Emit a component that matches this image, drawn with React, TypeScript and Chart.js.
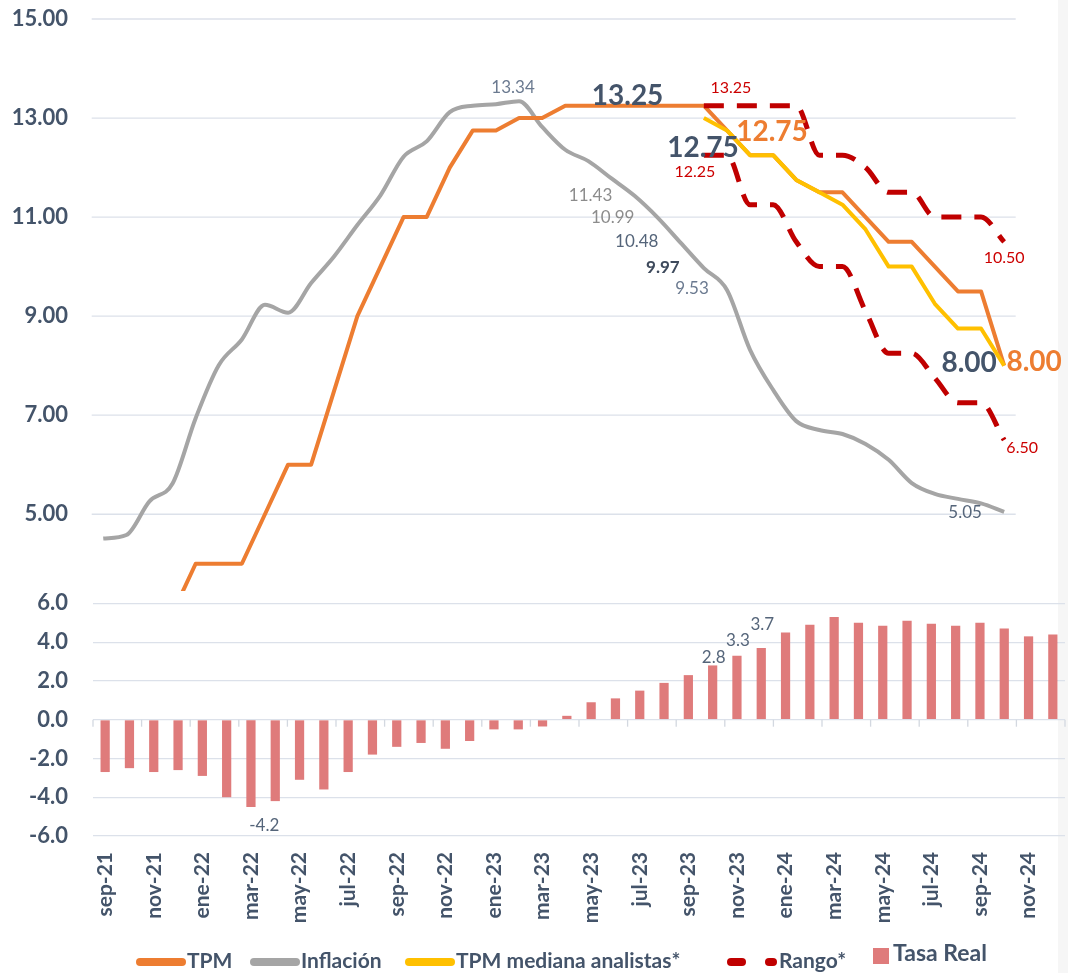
import React, { useEffect, useRef } from 'react';
import { Chart, registerables } from 'chart.js';

Chart.register(...registerables);

const months = [
  'sep-21', 'oct-21', 'nov-21', 'dic-21', 'ene-22', 'feb-22', 'mar-22', 'abr-22', 'may-22', 'jun-22',
  'jul-22', 'ago-22', 'sep-22', 'oct-22', 'nov-22', 'dic-22', 'ene-23', 'feb-23', 'mar-23', 'abr-23',
  'may-23', 'jun-23', 'jul-23', 'ago-23', 'sep-23', 'oct-23', 'nov-23', 'dic-23', 'ene-24', 'feb-24',
  'mar-24', 'abr-24', 'may-24', 'jun-24', 'jul-24', 'ago-24', 'sep-24', 'oct-24', 'nov-24', 'dic-24',
];

const inflation = [
  4.51, 4.58, 5.26, 5.62, 6.94, 8.01, 8.53, 9.23, 9.07, 9.67,
  10.21, 10.84, 11.44, 12.22, 12.53, 13.12, 13.25, 13.28, 13.34, 12.82,
  12.36, 12.13, 11.78, 11.43, 10.99, 10.48, 9.97, 9.53, 8.32, 7.51,
  6.88, 6.7, 6.62, 6.42, 6.1, 5.63, 5.41, 5.31, 5.22, 5.05,
];

const tpm = [
  null, null, null, 3.0, 4.0, 4.0, 4.0, 5.0, 6.0, 6.0,
  7.5, 9.0, 10.0, 11.0, 11.0, 12.0, 12.75, 12.75, 13.0, 13.0,
  13.25, 13.25, 13.25, 13.25, 13.25, 13.25, 13.25, 12.75, 12.25, 12.25,
  11.75, 11.5, 11.5, 11.0, 10.5, 10.5, 10.0, 9.5, 9.5, 8.0,
];

const tpmMedian = [
  null, null, null, null, null, null, null, null, null, null,
  null, null, null, null, null, null, null, null, null, null,
  null, null, null, null, null, null, 13.0, 12.75, 12.25, 12.25,
  11.75, 11.5, 11.25, 10.75, 10.0, 10.0, 9.25, 8.75, 8.75, 8.0,
];

const rangeHigh = [
  null, null, null, null, null, null, null, null, null, null,
  null, null, null, null, null, null, null, null, null, null,
  null, null, null, null, null, null, 13.25, 13.25, 13.25, 13.25,
  13.25, 12.25, 12.25, 12.0, 11.5, 11.5, 11.0, 11.0, 11.0, 10.5,
];

const rangeLow = [
  null, null, null, null, null, null, null, null, null, null,
  null, null, null, null, null, null, null, null, null, null,
  null, null, null, null, null, null, 12.25, 12.25, 11.25, 11.25,
  10.5, 10.0, 10.0, 9.1, 8.25, 8.25, 7.75, 7.25, 7.25, 6.5,
];

const realRate = [
  -2.7, -2.5, -2.7, -2.6, -2.9, -4.0, -4.5, -4.2, -3.1, -3.6,
  -2.7, -1.8, -1.4, -1.2, -1.5, -1.1, -0.5, -0.5, -0.35, 0.2,
  0.9, 1.1, 1.5, 1.9, 2.3, 2.8, 3.3, 3.7, 4.5, 4.9,
  5.3, 5.0, 4.85, 5.1, 4.95, 4.85, 5.0, 4.7, 4.3, 4.4,
];

const lineTicks = [5, 7, 9, 11, 13, 15];
const barTicks = [-6, -4, -2, 0, 2, 4, 6];

const COLORS = {
  tpm: '#ED7D31',
  infl: '#A5A5A5',
  median: '#FFC000',
  range: '#C00000',
  bar: '#DF7B7B',
  text: '#44546A',
  grid: '#DCE1EA',
  red: '#CC0000',
};

const FONT = 'Lato';

const seriesById: Record<string, (number | null)[]> = {
  infl: inflation,
  tpm: tpm,
  median: tpmMedian,
  high: rangeHigh,
  low: rangeLow,
  bar: realRate,
};

const callouts = [
  { s: 'infl', i: 18, d: 2, dx: -6, dy: -14, c: '#6B7A90', f: `17px ${FONT}` },
  { s: 'tpm', i: 23, d: 2, dx: -7, dy: -10, c: COLORS.text, f: `bold 28px ${FONT}` },
  { s: 'median', i: 27, d: 2, dx: -24, dy: 18, c: COLORS.text, f: `bold 28px ${FONT}` },
  { s: 'tpm', i: 27, d: 2, dx: 45, dy: 2, c: COLORS.tpm, f: `bold 28px ${FONT}` },
  { s: 'high', i: 26, d: 2, dx: 27, dy: -18, c: COLORS.red, f: `16px ${FONT}` },
  { s: 'low', i: 26, d: 2, dx: -9, dy: 17, c: COLORS.red, f: `16px ${FONT}` },
  { s: 'high', i: 39, d: 2, dx: 0, dy: 16, c: COLORS.red, f: `16px ${FONT}` },
  { s: 'low', i: 39, d: 2, dx: 18, dy: 8, c: COLORS.red, f: `16px ${FONT}` },
  { s: 'median', i: 39, d: 2, dx: -35, dy: -3, c: COLORS.text, f: `bold 28px ${FONT}` },
  { s: 'tpm', i: 39, d: 2, dx: 30, dy: -4, c: COLORS.tpm, f: `bold 28px ${FONT}` },
  { s: 'infl', i: 23, d: 2, dx: -44, dy: 0, c: '#8C8C8C', f: `17px ${FONT}` },
  { s: 'infl', i: 24, d: 2, dx: -45, dy: 0, c: '#8C8C8C', f: `17px ${FONT}` },
  { s: 'infl', i: 25, d: 2, dx: -44, dy: -1, c: '#55657A', f: `17px ${FONT}` },
  { s: 'infl', i: 26, d: 2, dx: -41, dy: -1, c: '#3E4A5C', f: `bold 17px ${FONT}` },
  { s: 'infl', i: 27, d: 2, dx: -35, dy: -1, c: '#6B7A90', f: `17px ${FONT}` },
  { s: 'infl', i: 39, d: 2, dx: -39, dy: 1, c: '#55657A', f: `17px ${FONT}` },
  { s: 'bar', i: 7, d: 1, dx: -11, dy: 24, c: '#55657A', f: `17px ${FONT}` },
  { s: 'bar', i: 25, d: 1, dx: 1, dy: -8, c: '#55657A', f: `17px ${FONT}` },
  { s: 'bar', i: 26, d: 1, dx: 1, dy: -15, c: '#55657A', f: `17px ${FONT}` },
  { s: 'bar', i: 27, d: 1, dx: 1, dy: -23, c: '#55657A', f: `17px ${FONT}` },
];

const legendItems = [
  { label: 'TPM', kind: 'line', color: COLORS.tpm, x: 136 },
  { label: 'Inflación', kind: 'line', color: COLORS.infl, x: 250 },
  { label: 'TPM mediana analistas*', kind: 'line', color: COLORS.median, x: 405 },
  { label: 'Rango*', kind: 'dash', color: COLORS.range, x: 727 },
  { label: 'Tasa Real', kind: 'box', color: COLORS.bar, x: 873 },
];

const toPoints = (arr: (number | null)[]) => arr.map((v, i) => ({ x: i, y: v }));

const customPlugin = {
  id: 'customDraw',
  beforeDatasetsDraw(chart: any) {
    const { ctx } = chart;
    const ys = chart.scales.y;
    const xl = chart.scales.xl;
    const xb = chart.scales.x;
    const yb = chart.scales.yb;
    ctx.save();
    ctx.strokeStyle = COLORS.grid;
    ctx.lineWidth = 1.3;
    const x0 = xl.getPixelForValue(-0.5);
    const x1 = xl.getPixelForValue(months.length - 0.5);
    lineTicks.forEach((v) => {
      const y = ys.getPixelForValue(v);
      ctx.beginPath();
      ctx.moveTo(x0, y);
      ctx.lineTo(x1, y);
      ctx.stroke();
    });
    const y0 = yb.getPixelForValue(0);
    const w = (xb.right - xb.left) / months.length;
    ctx.strokeStyle = '#D3D8E0';
    for (let i = 0; i <= months.length; i += 2) {
      const x = xb.left + w * i;
      ctx.beginPath();
      ctx.moveTo(x, y0);
      ctx.lineTo(x, y0 + 7);
      ctx.stroke();
    }
    ctx.restore();
  },
  beforeDatasetDraw(chart: any, args: any) {
    if (args.meta.yAxisID === 'y') {
      const ys = chart.scales.y;
      const { ctx, chartArea } = chart;
      ctx.save();
      ctx.beginPath();
      ctx.rect(chartArea.left, ys.top - 10, chartArea.right - chartArea.left, ys.bottom - ys.top + 10);
      ctx.clip();
    }
  },
  afterDatasetDraw(chart: any, args: any) {
    if (args.meta.yAxisID === 'y') {
      chart.ctx.restore();
    }
  },
  afterDraw(chart: any) {
    const { ctx } = chart;
    const ys = chart.scales.y;
    const xl = chart.scales.xl;
    const xb = chart.scales.x;
    const yb = chart.scales.yb;
    ctx.save();
    ctx.textAlign = 'center';
    ctx.textBaseline = 'middle';
    callouts.forEach((c) => {
      const v = seriesById[c.s][c.i] as number;
      let px: number;
      let py: number;
      if (c.s === 'bar') {
        px = xb.getPixelForValue(c.i);
        py = yb.getPixelForValue(v);
      } else {
        px = xl.getPixelForValue(c.i);
        py = ys.getPixelForValue(v);
      }
      ctx.font = c.f;
      ctx.fillStyle = c.c;
      ctx.fillText(v.toFixed(c.d), px + c.dx, py + c.dy);
    });

    const ly = 962;
    ctx.textAlign = 'left';
    legendItems.forEach((it) => {
      if (it.kind === 'line') {
        ctx.strokeStyle = it.color;
        ctx.lineWidth = 8;
        ctx.lineCap = 'round';
        ctx.beginPath();
        ctx.moveTo(it.x + 4, ly);
        ctx.lineTo(it.x + 46, ly);
        ctx.stroke();
        ctx.font = `bold 21px ${FONT}`;
        ctx.fillStyle = COLORS.text;
        ctx.fillText(it.label, it.x + 51, ly - 1);
      } else if (it.kind === 'dash') {
        ctx.strokeStyle = it.color;
        ctx.lineWidth = 8;
        ctx.lineCap = 'round';
        ctx.beginPath();
        ctx.moveTo(it.x + 4, ly);
        ctx.lineTo(it.x + 15, ly);
        ctx.stroke();
        ctx.beginPath();
        ctx.moveTo(it.x + 42, ly);
        ctx.lineTo(it.x + 46, ly);
        ctx.stroke();
        ctx.font = `bold 21px ${FONT}`;
        ctx.fillStyle = COLORS.text;
        ctx.fillText(it.label, it.x + 52, ly - 1);
      } else {
        ctx.fillStyle = it.color;
        ctx.fillRect(it.x, ly - 14, 16, 16);
        ctx.font = `bold 23px ${FONT}`;
        ctx.fillStyle = COLORS.text;
        ctx.fillText(it.label, it.x + 20, ly - 8);
      }
    });
    ctx.restore();
  },
};

const noPadY = (s: any) => {
  s.width = 93;
  s.paddingTop = 0;
  s.paddingBottom = 0;
};

export default function App() {
  const ref = useRef<HTMLCanvasElement>(null);

  useEffect(() => {
    const canvas = ref.current;
    if (!canvas) return;
    const tickFont = { family: FONT, size: 22, weight: 'bold' as const };
    const lineBase = {
      type: 'line' as const,
      xAxisID: 'xl',
      yAxisID: 'y',
      pointRadius: 0,
      pointHoverRadius: 0,
      fill: false,
      spanGaps: false,
    };
    const chart = new Chart(canvas, {
      type: 'bar',
      data: {
        labels: months,
        datasets: [
          {
            ...lineBase,
            label: 'Rango* sup',
            data: toPoints(rangeHigh) as any,
            borderColor: COLORS.range,
            borderWidth: 5,
            borderDash: [20, 13],
            borderCapStyle: 'butt',
            cubicInterpolationMode: 'monotone',
            order: 0,
          } as any,
          {
            ...lineBase,
            label: 'Rango* inf',
            data: toPoints(rangeLow) as any,
            borderColor: COLORS.range,
            borderWidth: 5,
            borderDash: [20, 13],
            borderCapStyle: 'butt',
            cubicInterpolationMode: 'monotone',
            order: 0,
          } as any,
          {
            ...lineBase,
            label: 'TPM mediana analistas*',
            data: toPoints(tpmMedian) as any,
            borderColor: COLORS.median,
            borderWidth: 4,
            tension: 0,
            borderJoinStyle: 'round',
            order: 1,
          } as any,
          {
            ...lineBase,
            label: 'TPM',
            data: toPoints(tpm) as any,
            borderColor: COLORS.tpm,
            borderWidth: 4,
            tension: 0,
            borderJoinStyle: 'round',
            order: 2,
          } as any,
          {
            ...lineBase,
            label: 'Inflación',
            data: toPoints(inflation) as any,
            borderColor: COLORS.infl,
            borderWidth: 4,
            cubicInterpolationMode: 'monotone',
            order: 3,
          } as any,
          {
            type: 'bar',
            label: 'Tasa Real',
            data: realRate,
            xAxisID: 'x',
            yAxisID: 'yb',
            backgroundColor: COLORS.bar,
            grouped: false,
            barPercentage: 0.38,
            categoryPercentage: 1,
            order: 4,
          } as any,
        ],
      },
      options: {
        animation: false,
        responsive: false,
        events: [],
        layout: { padding: { top: 19, right: 3, bottom: 0, left: 0 } },
        plugins: {
          legend: { display: false },
          tooltip: { enabled: false },
        },
        scales: {
          x: {
            type: 'category',
            position: 'bottom',
            offset: true,
            grid: { display: false, drawTicks: false },
            border: { display: false },
            ticks: {
              autoSkip: false,
              minRotation: 90,
              maxRotation: 90,
              padding: 16,
              color: COLORS.text,
              font: { family: FONT, size: 21, weight: 'bold' },
              callback: (_v: any, i: number) => (i % 2 === 0 ? months[i] : ''),
            },
            afterFit: (s: any) => {
              s.height = 137;
              s.paddingLeft = 0;
              s.paddingRight = 0;
            },
          },
          xl: {
            type: 'linear',
            axis: 'x',
            position: 'bottom',
            display: true,
            offset: false,
            min: -0.444,
            max: 41.634,
            grid: { display: false, drawTicks: false, offset: false },
            border: { display: false },
            ticks: { display: false },
            afterFit: (s: any) => {
              s.height = 0;
              s.paddingLeft = 0;
              s.paddingRight = 0;
            },
          },
          yb: {
            type: 'linear',
            position: 'left',
            stack: 'v',
            stackWeight: 245,
            min: -6,
            max: 6.64,
            afterBuildTicks: (s: any) => {
              s.ticks = barTicks.map((value) => ({ value }));
            },
            grid: { color: COLORS.grid, lineWidth: 1.3, drawTicks: false },
            border: { display: false },
            ticks: {
              autoSkip: false,
              padding: 25,
              color: COLORS.text,
              font: tickFont,
              callback: (v: any) => Number(v).toFixed(1),
            },
            afterFit: noPadY,
          },
          y: {
            type: 'linear',
            position: 'left',
            stack: 'v',
            stackWeight: 572,
            min: 3.45,
            max: 15,
            afterBuildTicks: (s: any) => {
              s.ticks = lineTicks.map((value) => ({ value }));
            },
            grid: { display: false, drawTicks: false },
            border: { display: false },
            ticks: {
              autoSkip: false,
              padding: 25,
              color: COLORS.text,
              font: tickFont,
              callback: (v: any) => Number(v).toFixed(2),
            },
            afterFit: noPadY,
          },
        } as any,
      },
      plugins: [customPlugin],
    });
    return () => chart.destroy();
  }, []);

  return (
    <div style={{ position: 'fixed', left: 0, top: 0, width: 1068, height: 973, background: '#ffffff', overflow: 'hidden' }}>
      <div style={{ position: 'absolute', left: 1058, top: 0, width: 10, height: 973, background: '#F6F6F6' }} />
      <canvas ref={ref} width={1068} height={973} style={{ position: 'absolute', left: 0, top: 0, display: 'block' }} />
    </div>
  );
}
